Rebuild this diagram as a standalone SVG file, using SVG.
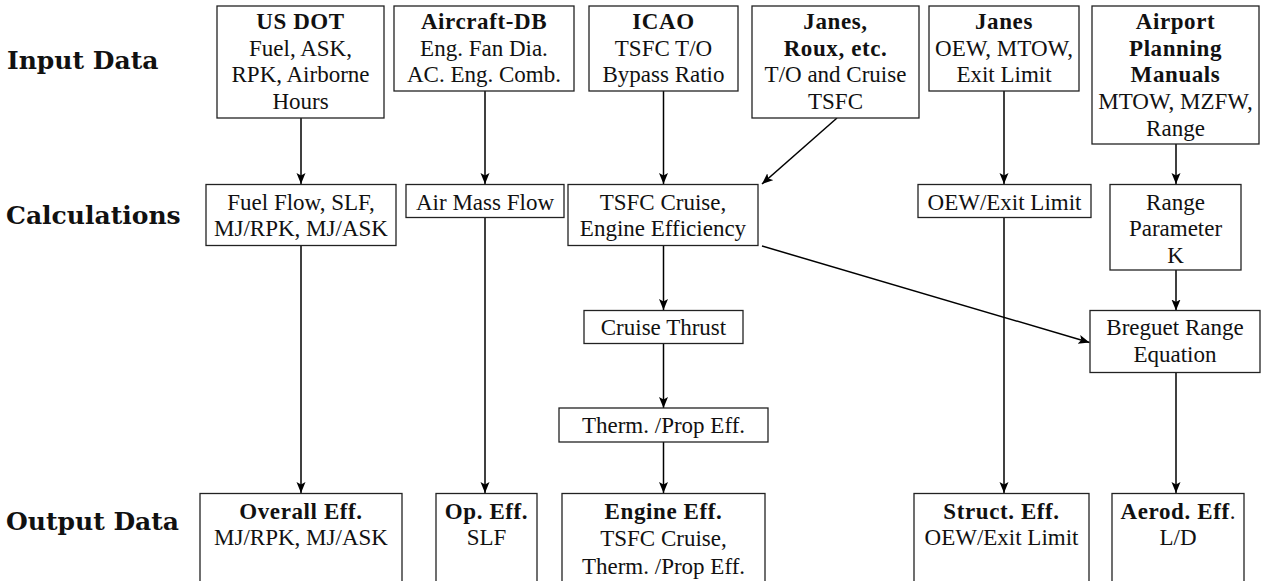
<svg xmlns="http://www.w3.org/2000/svg" width="1261" height="581" viewBox="0 0 1261 581">
<style>
.bx{fill:#fff;stroke:#222;stroke-width:1.3}
.t{font-family:"Liberation Serif","Times New Roman",serif;font-size:23px;fill:#111;text-anchor:middle}
.b{font-weight:bold;letter-spacing:0.6px}
.lbl{font-family:"DejaVu Serif","Liberation Serif",serif;font-weight:bold;font-size:25px;fill:#111}
.c{stroke:#000;stroke-width:1.5;fill:none;marker-end:url(#ah)}
</style>
<defs>
<marker id="ah" markerUnits="userSpaceOnUse" markerWidth="12" markerHeight="10" refX="11" refY="4.5" orient="auto">
<path d="M0,0 L11,4.5 L0,9 L2.5,4.5 Z" fill="#000"/>
</marker>
</defs>
<rect width="1261" height="581" fill="#fff"/>
<text class="lbl" x="7" y="69">Input Data</text>
<text class="lbl" x="6" y="224">Calculations</text>
<text class="lbl" x="6" y="530">Output Data</text>
<g id="connectors">
<path class="c" d="M301,118 V184"/>
<path class="c" d="M485,91 V184"/>
<path class="c" d="M663.5,91 V184"/>
<path class="c" d="M837,118 L762,184"/>
<path class="c" d="M1004,91 V184"/>
<path class="c" d="M1176,144 V184"/>
<path class="c" d="M301,245.5 V493"/>
<path class="c" d="M485,218 V493"/>
<path class="c" d="M663.5,245.5 V310"/>
<path class="c" d="M663.5,344 V408"/>
<path class="c" d="M663.5,442 V493"/>
<path class="c" d="M762,246 L1089.5,342.5"/>
<path class="c" d="M1004,218 V493"/>
<path class="c" d="M1176,270 V310.5"/>
<path class="c" d="M1176,373 V493"/>
</g>
<g id="usdot"><rect class="bx" x="217" y="6" width="167" height="112"/>
<text class="t" x="300.5"><tspan class="b" x="300.5" y="29">US DOT</tspan><tspan x="300.5" y="55.7">Fuel, ASK,</tspan><tspan x="300.5" y="82.4">RPK, Airborne</tspan><tspan x="300.5" y="109">Hours</tspan></text></g>
<g id="aircraftdb"><rect class="bx" x="394" y="6" width="180" height="85"/>
<text class="t"><tspan class="b" x="484" y="29">Aircraft-DB</tspan><tspan x="484" y="55.7">Eng. Fan Dia.</tspan><tspan x="484" y="82.4">AC. Eng. Comb.</tspan></text></g>
<g id="icao"><rect class="bx" x="589" y="6" width="149" height="85"/>
<text class="t"><tspan class="b" x="663.5" y="29">ICAO</tspan><tspan x="663.5" y="55.7">TSFC T/O</tspan><tspan x="663.5" y="82.4">Bypass Ratio</tspan></text></g>
<g id="janesroux"><rect class="bx" x="752" y="6" width="167" height="112"/>
<text class="t"><tspan class="b" x="835.5" y="29">Janes,</tspan><tspan class="b" x="835.5" y="55.7">Roux, etc.</tspan><tspan x="835.5" y="82.4">T/O and Cruise</tspan><tspan x="835.5" y="109">TSFC</tspan></text></g>
<g id="janes"><rect class="bx" x="929" y="6" width="150" height="85"/>
<text class="t"><tspan class="b" x="1004" y="29">Janes</tspan><tspan x="1004" y="55.7">OEW, MTOW,</tspan><tspan x="1004" y="82.4">Exit Limit</tspan></text></g>
<g id="apm"><rect class="bx" x="1092" y="6" width="167" height="138"/>
<text class="t"><tspan class="b" x="1175.5" y="29">Airport</tspan><tspan class="b" x="1175.5" y="55.7">Planning</tspan><tspan class="b" x="1175.5" y="82.4">Manuals</tspan><tspan x="1175.5" y="109">MTOW, MZFW,</tspan><tspan x="1175.5" y="135.8">Range</tspan></text></g>
<g id="fuelflow"><rect class="bx" x="206" y="184.5" width="190" height="61"/>
<text class="t"><tspan x="301" y="210">Fuel Flow, SLF,</tspan><tspan x="301" y="236">MJ/RPK, MJ/ASK</tspan></text></g>
<g id="airmass"><rect class="bx" x="406" y="184.5" width="158" height="33"/>
<text class="t" x="485" y="209.5">Air Mass Flow</text></g>
<g id="tsfccruise"><rect class="bx" x="568" y="184.5" width="190" height="61"/>
<text class="t"><tspan x="663" y="210">TSFC Cruise,</tspan><tspan x="663" y="236">Engine Efficiency</tspan></text></g>
<g id="oewcalc"><rect class="bx" x="918" y="184.5" width="173" height="33"/>
<text class="t" x="1004.5" y="209.5">OEW/Exit Limit</text></g>
<g id="rangeparam"><rect class="bx" x="1110" y="184.5" width="131" height="85.5"/>
<text class="t"><tspan x="1175.5" y="209.5">Range</tspan><tspan x="1175.5" y="236">Parameter</tspan><tspan x="1175.5" y="262.5">K</tspan></text></g>
<g id="cruisethrust"><rect class="bx" x="584" y="310.5" width="159" height="33"/>
<text class="t" x="663.5" y="335">Cruise Thrust</text></g>
<g id="thermprop"><rect class="bx" x="559" y="408" width="209" height="34"/>
<text class="t" x="663.5" y="432.5">Therm. /Prop Eff.</text></g>
<g id="breguet"><rect class="bx" x="1090" y="310.5" width="170" height="62"/>
<text class="t"><tspan x="1175" y="335">Breguet Range</tspan><tspan x="1175" y="361.7">Equation</tspan></text></g>
<g id="overall"><rect class="bx" x="200" y="493.5" width="202" height="110"/>
<text class="t"><tspan class="b" x="301" y="518.5">Overall Eff.</tspan><tspan x="301" y="545">MJ/RPK, MJ/ASK</tspan></text></g>
<g id="opeff"><rect class="bx" x="436" y="493.5" width="101" height="110"/>
<text class="t"><tspan class="b" x="486.5" y="518.5">Op. Eff.</tspan><tspan x="486.5" y="545">SLF</tspan></text></g>
<g id="engineeff"><rect class="bx" x="562" y="493.5" width="203" height="110"/>
<text class="t"><tspan class="b" x="663.5" y="518.5">Engine Eff.</tspan><tspan x="663.5" y="546">TSFC Cruise,</tspan><tspan x="663.5" y="573.5">Therm. /Prop Eff.</tspan></text></g>
<g id="structeff"><rect class="bx" x="914" y="493.5" width="175" height="110"/>
<text class="t"><tspan class="b" x="1001.5" y="518.5">Struct. Eff.</tspan><tspan x="1001.5" y="545">OEW/Exit Limit</tspan></text></g>
<g id="aerodeff"><rect class="bx" x="1112" y="493.5" width="132" height="110"/>
<text class="t"><tspan x="1178" y="518.5"><tspan class="b">Aerod. Eff</tspan>.</tspan><tspan x="1178" y="545">L/D</tspan></text></g>
</svg>
